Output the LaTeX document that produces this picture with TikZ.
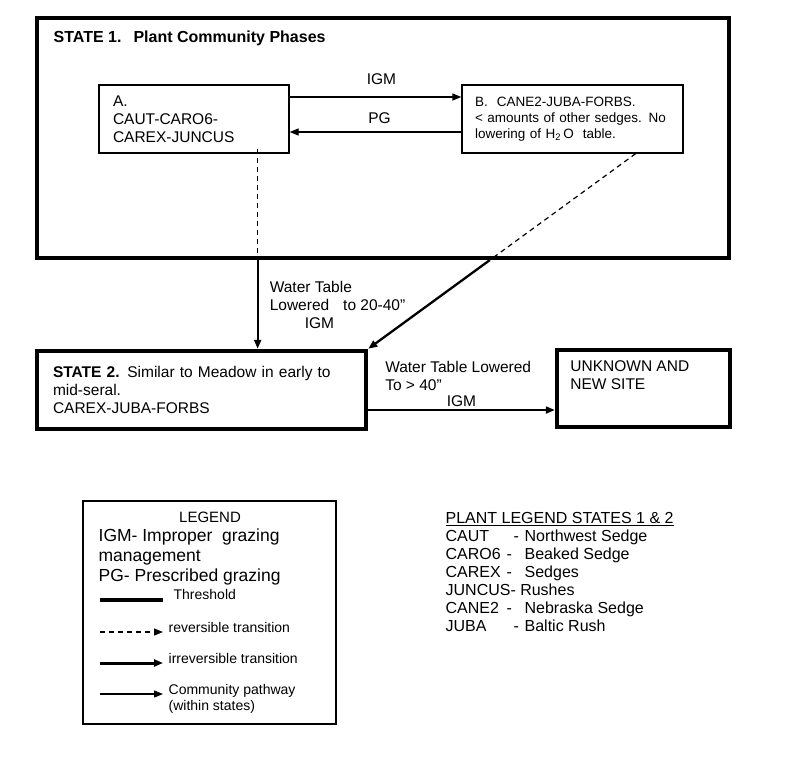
\documentclass[tikz,border=0pt]{standalone}
\usepackage{fontspec}
\setmainfont{Liberation Sans}
\usetikzlibrary{arrows.meta, positioning}

\begin{document}
\begin{tikzpicture}[x=1pt, y=-1pt, >={Triangle[length=9pt,width=7pt]},
      inner sep=0pt, line width=1.3pt,
      phase/.style={draw, rectangle, align=left},
      state/.style={draw, rectangle, line width=4.5pt, align=left},
      txt/.style={font=\fontsize{15.5}{18}\selectfont, align=left},
      small/.style={font=\fontsize{14}{16}\selectfont, align=left},
      rev/.style={line width=1.2pt, dash pattern=on 5pt off 4pt},
      irrev/.style={->, line width=2.3pt}]
      \useasboundingbox (0,0) rectangle (800,764);
      % state 1 and its phases
      \node[state, minimum width=692pt, minimum height=240pt] (s1) at (383,138) {};
      \node[anchor=west, font=\bfseries\fontsize{16}{19}\selectfont] (s1_title) at (53,38)
            {STATE 1.\hspace{12pt}Plant Community Phases};
      \node[phase, txt, minimum width=190pt, minimum height=68pt, inner xsep=14pt,
            text width=162pt] (a) at (194,119) {A.\\CAUT-CARO6-\\CAREX-JUNCUS};
      \node[phase, font=\fontsize{13.5}{16}\selectfont, minimum width=221pt, minimum height=68pt,
            inner xsep=13pt, text width=195pt] (b) at (572.5,119)
            {B.\ \ CANE2-JUBA-FORBS.\\< amounts of other sedges. No\\lowering of H\textsubscript{2}\,O\ \ table.};
      \path[->] ([yshift=22pt]a.east) edge node[txt, yshift=18pt, xshift=6pt] (igm_ab) {IGM} ([yshift=22pt]b.west);
      \path[->] ([yshift=-13pt]b.west) edge node[txt, yshift=14pt, xshift=4pt] (pg_ba) {PG} ([yshift=-13pt]a.east);
      % state 2 and unknown site
      \node[state, txt, minimum width=329pt, minimum height=78pt, inner xsep=16pt,
            text width=297pt] (s2) at (201.5,390)
            {\textbf{STATE 2.} Similar to Meadow in early to\\mid-seral.\\CAREX-JUBA-FORBS};
      \node[state, minimum width=173pt, minimum height=77pt] (unk) at (643.5,388.5) {};
      \node[txt, anchor=north west] (unk_txt) at ([xshift=15pt, yshift=-12.5pt]unk.north west)
            {UNKNOWN AND\\NEW SITE};
      % transitions from state 1
      \coordinate (a_out) at ([xshift=-32pt, yshift=5pt]a.south east);
      \coordinate (b_out) at ([xshift=-48pt]b.south east);
      \coordinate (b_s1) at (intersection of b_out--s2.north east and s1.south west--s1.south east);
      \draw[rev] (a_out) -- (a_out |- s1.south);
      \draw[irrev] (a_out |- s1.south) -- node[txt, right=11pt] (wt_a)
            {Water Table\\Lowered\hspace{14pt}to 20-40”\\\hspace{35pt}IGM} (a_out |- s2.north);
      \draw[rev] (b_out) -- (b_s1);
      \draw[irrev] (b_s1) -- (s2.north east);
      \draw[irrev, line width=2pt] ([yshift=-20pt]s2.east)
            -- node[txt, above=2pt] (igm_su) {IGM}
            node[txt, pos=0, anchor=south west, xshift=16pt, yshift=18pt] (wt_s2)
            {Water Table Lowered\\To > 40”} ([yshift=-20pt]s2.east -| unk.west);
      % legend
      \node[draw, minimum width=253pt, minimum height=223pt] (leg) at (209.5,612.5) {};
      \node[font=\fontsize{15}{18}\selectfont] (leg_title) at (210,517) {LEGEND};
      \node[anchor=west, align=left, font=\fontsize{17.5}{20}\selectfont] (leg_abbr) at (98,557)
            {IGM- Improper\ \ grazing\\management\\PG- Prescribed grazing};
      \coordinate (thr_a) at (100,600);
      \coordinate (thr_b) at (163,600);
      \draw[line width=3.5pt] (thr_a) -- (thr_b);
      \node[small, anchor=west] (thr_lbl) at (173,594) {Threshold};
      \coordinate (rev_a) at (100,632);
      \coordinate (rev_b) at (163,632);
      \draw[->, rev] (rev_a) -- (rev_b);
      \node[small, anchor=west] (rev_lbl) at (168,627) {reversible transition};
      \coordinate (irr_a) at (100,663);
      \coordinate (irr_b) at (163,663);
      \draw[irrev, line width=3pt] (irr_a) -- (irr_b);
      \node[small, anchor=west] (irr_lbl) at (168,658) {irreversible transition};
      \coordinate (com_a) at (100,694);
      \coordinate (com_b) at (163,694);
      \draw[->] (com_a) -- (com_b);
      \node[small, anchor=west] (com_lbl) at (168,699) {Community pathway\\(within states)};
      % plant legend
      \node[anchor=north west, align=left, font=\fontsize{16}{18}\selectfont] (plants) at (445,512)
            {\underline{PLANT LEGEND STATES 1 \& 2}\\
             \makebox[68pt][l]{CAUT}\makebox[11pt][l]{-}Northwest Sedge\\
             \makebox[61pt][l]{CARO6}\makebox[18pt][l]{-}Beaked Sedge\\
             \makebox[61pt][l]{CAREX}\makebox[18pt][l]{-}Sedges\\
             JUNCUS- Rushes\\
             \makebox[61pt][l]{CANE2}\makebox[18pt][l]{-}Nebraska Sedge\\
             \makebox[68pt][l]{JUBA}\makebox[11pt][l]{-}Baltic Rush};
\end{tikzpicture}
\end{document}
